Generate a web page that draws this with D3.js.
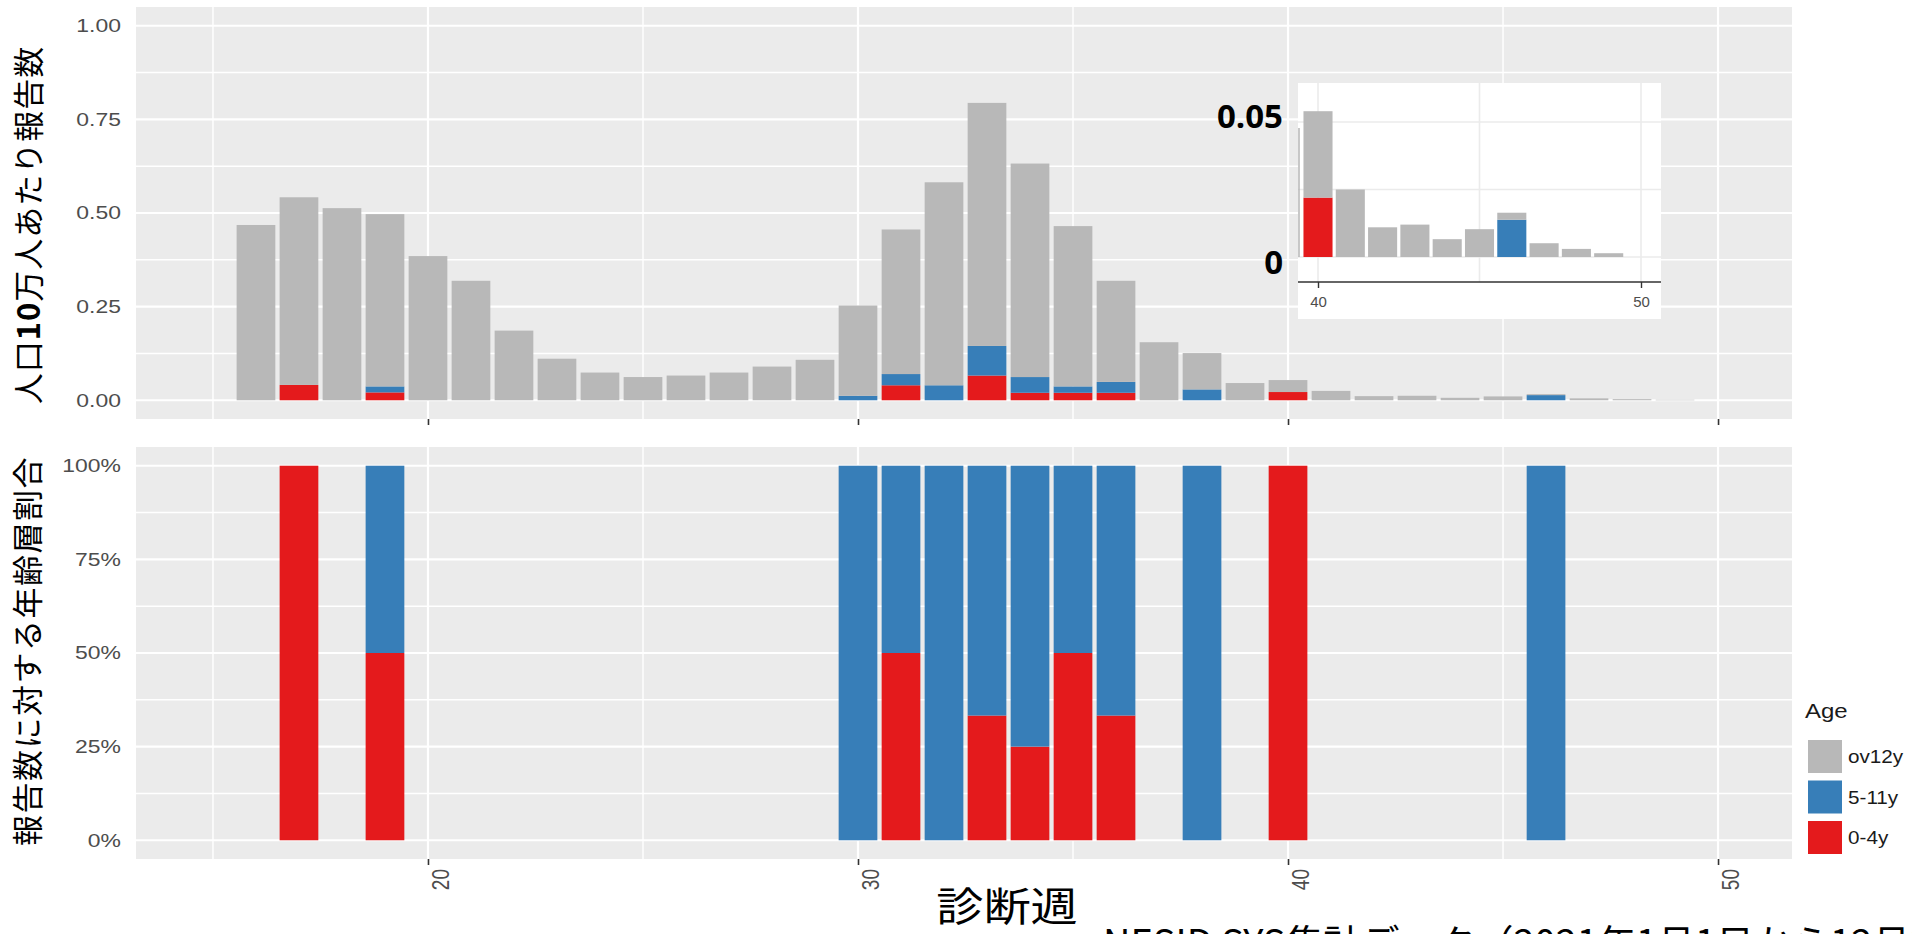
<!DOCTYPE html>
<html>
<head>
<meta charset="utf-8">
<script src="https://cdn.jsdelivr.net/npm/d3@7"></script>
<style>
  body { margin: 0; background: #fff; }
</style>
</head>
<body>
<script>
// weekly reports per 100k, stacked by age group
var weeks  = [16, 17, 18, 19, 20, 21, 22, 23, 24, 25, 26, 27, 28, 29, 30, 31, 32,
              33, 34, 35, 36, 37, 38, 39, 40, 41, 42, 43, 44, 45, 46, 47, 48, 49];
var age04  = [0, .041, 0, .021, 0, 0, 0, 0, 0, 0, 0, 0, 0, 0, 0, .040, 0,
              .066, .020, .020, .020, 0, 0, 0, .022, 0, 0, 0, 0, 0, 0, 0, 0, 0];
var age511 = [0, 0, 0, .016, 0, 0, 0, 0, 0, 0, 0, 0, 0, 0, .012, .030, .040,
              .079, .042, .017, .029, 0, .029, 0, 0, 0, 0, 0, 0, 0, .0138, 0, 0, 0];
var ov12y  = [.468, .501, .513, .460, .385, .319, .186, .111, .074, .062, .066, .074, .090, .108, .241, .386, .542,
              .649, .570, .428, .270, .155, .097, .046, .032, .025, .011, .012, .0066, .0103, .0026, .0051, .003, .0014];

// share of 0-4y among the 0-11y reports
var shareWeeks = [17, 19, 30, 31, 32, 33, 34, 35, 36, 38, 40, 46];
var share04    = [1, .5, 0, .5, 0, .333, .25, .5, .333, 0, 1, 0];

var ageKeys   = ["0-4y", "5-11y", "ov12y"];
var ageColors = ["#E41A1C", "#377EB8", "#B8B8B8"];
var legendKeys = ["ov12y", "5-11y", "0-4y"];

var xMajor = [20, 30, 40, 50];
var xMinor = [15, 25, 35, 45];
var yMajor = [0, .25, .5, .75, 1];
var yMinor = [.125, .375, .625, .875];
var rateLabels  = ["0.00", "0.25", "0.50", "0.75", "1.00"];
var shareLabels = ["0%", "25%", "50%", "75%", "100%"];
var insetTicks = [40, 50];
var insetGrid  = [0, .025, .05];

var W = 1912, H = 934;
var svg = d3.select("body").append("svg")
    .attr("width", W)
    .attr("height", H)
    .style("display", "block");

var rows = weeks.map(function(w, i) {
  return { week: w, "0-4y": age04[i], "5-11y": age511[i], "ov12y": ov12y[i] };
});
var stacked = d3.stack().keys(ageKeys)(rows);

var color = d3.scaleOrdinal().domain(ageKeys).range(ageColors);

// shared x scale, both panels
var x = d3.scaleLinear().domain([13.21, 51.72]).range([136, 1792]);
var bw = (x(1) - x(0)) * 0.9;

var yTop = d3.scaleLinear().domain([-0.05, 1.05]).range([419, 7]);
var yBot = d3.scaleLinear().domain([-0.05, 1.05]).range([859, 447]);

function panel(y) {
  var top = y.range()[1], bottom = y.range()[0];
  svg.append("rect")
      .attr("x", 136).attr("y", top)
      .attr("width", 1792 - 136).attr("height", bottom - top)
      .attr("fill", "#EBEBEB");

  var g = svg.append("g");
  g.selectAll(".hmin").data(yMinor).enter().append("line")
      .attr("x1", 136).attr("x2", 1792)
      .attr("y1", function(d) { return y(d); })
      .attr("y2", function(d) { return y(d); })
      .attr("stroke", "#fff").attr("stroke-width", 1.4);
  g.selectAll(".vmin").data(xMinor).enter().append("line")
      .attr("y1", top).attr("y2", bottom)
      .attr("x1", function(d) { return x(d); })
      .attr("x2", function(d) { return x(d); })
      .attr("stroke", "#fff").attr("stroke-width", 1.4);
  g.selectAll(".hmaj").data(yMajor).enter().append("line")
      .attr("x1", 136).attr("x2", 1792)
      .attr("y1", function(d) { return y(d); })
      .attr("y2", function(d) { return y(d); })
      .attr("stroke", "#fff").attr("stroke-width", 2.2);
  g.selectAll(".vmaj").data(xMajor).enter().append("line")
      .attr("y1", top).attr("y2", bottom)
      .attr("x1", function(d) { return x(d); })
      .attr("x2", function(d) { return x(d); })
      .attr("stroke", "#fff").attr("stroke-width", 2.2);
}

function yLabels(y, labels) {
  var ax = svg.append("g")
      .attr("transform", "translate(136,0)")
      .call(d3.axisLeft(y).tickValues(yMajor).tickSize(0)
        .tickFormat(function(d, i) { return labels[i]; }));
  ax.select(".domain").remove();
  ax.selectAll("text")
      .attr("x", 0)
      .attr("transform", "translate(-15,0) scale(1.24,1)")
      .attr("fill", "#4D4D4D")
      .style("font-family", "'Liberation Sans', Arial, sans-serif")
      .style("font-size", "18.5px");
}

function xAxis(y0, withText) {
  var ax = svg.append("g")
      .attr("transform", "translate(0," + y0 + ")")
      .call(d3.axisBottom(x).tickValues(xMajor).tickSize(6).tickSizeOuter(0)
        .tickFormat(withText ? d3.format("d") : ""));
  ax.select(".domain").remove();
  ax.selectAll("line").attr("stroke", "#333").attr("stroke-width", 1.6);
  // rotated labels, stretched sideways like the reference
  ax.selectAll("text")
      .attr("transform", "rotate(-90) scale(1,1.28)")
      .attr("x", -10).attr("y", 9.4).attr("dy", "0.35em")
      .attr("text-anchor", "end")
      .attr("fill", "#4D4D4D")
      .style("font-family", "'Liberation Sans', Arial, sans-serif")
      .style("font-size", "19px");
}

// top panel: rates
panel(yTop);
svg.append("g").selectAll("g").data(stacked).enter().append("g")
    .attr("fill", function(d) { return color(d.key); })
  .selectAll("rect").data(function(d) { return d.filter(function(p) { return p[1] > p[0]; }); })
  .enter().append("rect")
    .attr("x", function(d) { return x(d.data.week) - bw / 2; })
    .attr("y", function(d) { return yTop(d[1]); })
    .attr("width", bw)
    .attr("height", function(d) { return yTop(d[0]) - yTop(d[1]); });
yLabels(yTop, rateLabels);
xAxis(419, false);

// bottom panel: shares
panel(yBot);
var shareRows = shareWeeks.map(function(w, i) { return { week: w, "0-4y": share04[i], "5-11y": 1 - share04[i] }; });
var shareStack = d3.stack().keys(["0-4y", "5-11y"])(shareRows);
svg.append("g").selectAll("g").data(shareStack).enter().append("g")
    .attr("fill", function(d) { return color(d.key); })
  .selectAll("rect").data(function(d) { return d.filter(function(p) { return p[1] > p[0]; }); })
  .enter().append("rect")
    .attr("x", function(d) { return x(d.data.week) - bw / 2; })
    .attr("y", function(d) { return yBot(d[1]); })
    .attr("width", bw)
    .attr("height", function(d) { return yBot(d[0]) - yBot(d[1]); });
yLabels(yBot, shareLabels);
xAxis(859, true);

// inset zoom on weeks 40-49
var ix = d3.scaleLinear().domain([40, 50]).range([1318, 1641]);
var iy = d3.scaleLinear().domain([0, 0.05]).range([257, 122]);
var ibw = (ix(1) - ix(0)) * 0.9;

var inset = svg.append("g");
inset.append("rect")
    .attr("x", 1298).attr("y", 83)
    .attr("width", 363).attr("height", 236)
    .attr("fill", "#fff");
inset.selectAll(".ig").data(insetGrid).enter().append("line")
    .attr("x1", 1298).attr("x2", 1661)
    .attr("y1", function(d) { return iy(d); })
    .attr("y2", function(d) { return iy(d); })
    .attr("stroke", "#EBEBEB").attr("stroke-width", 1.6);
inset.selectAll(".iv").data([40, 45, 50]).enter().append("line")
    .attr("y1", 83).attr("y2", 282)
    .attr("x1", function(d) { return ix(d); })
    .attr("x2", function(d) { return ix(d); })
    .attr("stroke", "#EBEBEB").attr("stroke-width", 1.6);
inset.append("line")
    .attr("x1", 1299).attr("x2", 1299)
    .attr("y1", 128).attr("y2", iy(0))
    .attr("stroke", "#B0B0B0").attr("stroke-width", 1.4);

inset.append("g").selectAll("g").data(stacked).enter().append("g")
    .attr("fill", function(d) { return color(d.key); })
  .selectAll("rect").data(function(d) { return d.filter(function(p) { return p.data.week >= 40 && p[1] > p[0]; }); })
  .enter().append("rect")
    .attr("x", function(d) { return ix(d.data.week) - ibw / 2; })
    .attr("y", function(d) { return iy(d[1]); })
    .attr("width", ibw)
    .attr("height", function(d) { return iy(d[0]) - iy(d[1]); });

var iax = inset.append("g")
    .attr("transform", "translate(0,282)")
    .call(d3.axisBottom(ix).tickValues(insetTicks).tickSize(6).tickSizeOuter(0).tickPadding(8));
iax.select(".domain").attr("d", "M1298,0H1661").attr("stroke", "#333").attr("stroke-width", 1.6);
iax.selectAll("line").attr("stroke", "#333").attr("stroke-width", 1.4);
iax.selectAll("text")
    .attr("fill", "#4D4D4D")
    .style("font-family", "'Liberation Sans', Arial, sans-serif")
    .style("font-size", "15px");

svg.append("text")
    .attr("x", 1283).attr("y", 128)
    .attr("text-anchor", "end")
    .style("font-family", "'Open Sans', 'Noto Sans', sans-serif")
    .style("font-weight", "bold")
    .style("font-size", "33px")
    .text("0.05");
svg.append("text")
    .attr("x", 1283).attr("y", 274)
    .attr("text-anchor", "end")
    .style("font-family", "'Open Sans', 'Noto Sans', sans-serif")
    .style("font-weight", "bold")
    .style("font-size", "33px")
    .text("0");

// axis titles
var jp = "'Noto Sans CJK JP', sans-serif";
var t1 = svg.append("text")
    .attr("transform", "translate(40,225) rotate(-90)")
    .attr("text-anchor", "middle")
    .style("font-family", jp)
    .style("font-size", "31px")
    .style("letter-spacing", "1px");
t1.append("tspan").text("人口");
t1.append("tspan").style("font-weight", "bold").text("10");
t1.append("tspan").text("万人あたり報告数");

svg.append("text")
    .attr("transform", "translate(39,651) rotate(-90)")
    .attr("text-anchor", "middle")
    .style("font-family", jp)
    .style("font-size", "31px")
    .style("letter-spacing", "1.5px")
    .text("報告数に対する年齢層割合");

svg.append("text")
    .attr("transform", "translate(1007,921) scale(1.18,1)")
    .attr("text-anchor", "middle")
    .style("font-family", jp)
    .style("font-size", "40px")
    .text("診断週");

// source note, runs off the bottom edge as in the original
svg.append("text")
    .attr("x", 1103).attr("y", 957)
    .style("font-family", jp)
    .style("font-size", "38px")
    .text("NESID SYS集計データ（2021年1月1日から12月31日）");

// legend
var lg = svg.append("g");
lg.append("text")
    .attr("x", 0).attr("y", 0)
    .attr("transform", "translate(1805,718) scale(1.2,1)")
    .attr("fill", "#1A1A1A")
    .style("font-family", "'Liberation Sans', Arial, sans-serif")
    .style("font-size", "20px")
    .text("Age");
lg.selectAll("rect").data(legendKeys).enter().append("rect")
    .attr("x", 1808)
    .attr("y", function(d, i) { return 740 + i * 40.5; })
    .attr("width", 34).attr("height", 33)
    .attr("fill", function(d) { return color(d); });
lg.selectAll(".lab").data(legendKeys).enter().append("text")
    .attr("x", 0).attr("y", 0)
    .attr("transform", function(d, i) { return "translate(1848," + (763 + i * 40.5) + ") scale(1.15,1)"; })
    .attr("fill", "#1A1A1A")
    .style("font-family", "'Liberation Sans', Arial, sans-serif")
    .style("font-size", "18px")
    .text(function(d) { return d; });
</script>
</body>
</html>
